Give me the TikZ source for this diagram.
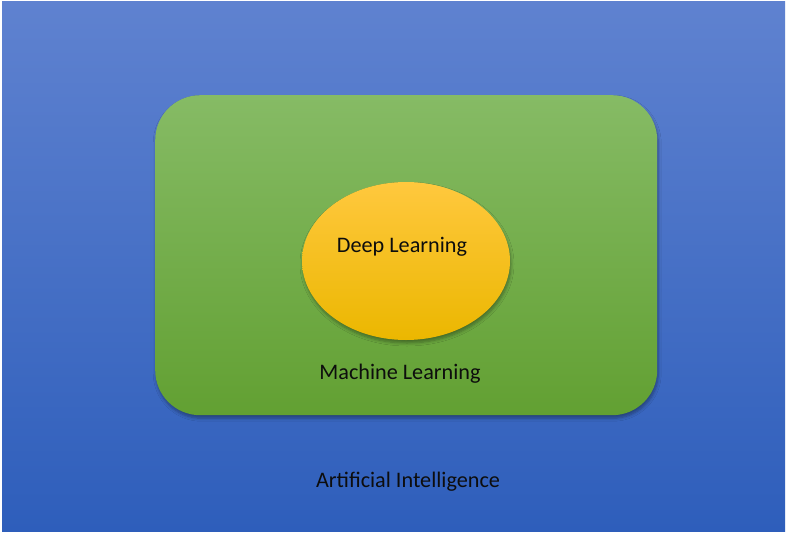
\documentclass[tikz,border=0pt]{standalone}
\usepackage{fontspec}
\setmainfont{Carlito}
\usetikzlibrary{shapes.geometric,shadows.blur}
\definecolor{bgtop}{HTML}{5F82D0}
\definecolor{bgbot}{HTML}{2E5EBB}
\definecolor{grtop}{HTML}{86BB65}
\definecolor{grbot}{HTML}{62A032}
\definecolor{yltop}{HTML}{FFC83E}
\definecolor{ylbot}{HTML}{EBB700}
\tikzset{
  lbl/.style={font=\fontsize{22.2}{26}\selectfont, text=black!95, inner sep=0pt},
  shd/.style={blur shadow={shadow xshift=1pt, shadow yshift=-3pt, shadow blur steps=6, shadow opacity=35, shadow blur radius=3pt}}
}
\begin{document}
\begin{tikzpicture}[x=1pt,y=-1pt]
\useasboundingbox (0,0) rectangle (787,533);
\fill[white] (0,0) rectangle (787,533);
\node[draw=none, top color=bgtop, bottom color=bgbot, minimum width=783pt, minimum height=530pt, inner sep=0pt, anchor=north west] (ai) at (2,1) {};
\node[shd, top color=grtop, bottom color=grbot, rounded corners=45pt, minimum width=502pt, minimum height=320pt, inner sep=0pt, anchor=north west] (ml) at (155,95) {};
\node[shd, ellipse, top color=yltop, bottom color=ylbot, minimum width=208pt, minimum height=158pt, inner sep=0pt] (dl) at (406,261) {};
\node[lbl] (dlt) at (402,246.5) {Deep Learning};
\node[lbl] (mlt) at (400,373.5) {Machine Learning};
\node[lbl] (ait) at (408,481.5) {Artificial Intelligence};
\end{tikzpicture}
\end{document}
